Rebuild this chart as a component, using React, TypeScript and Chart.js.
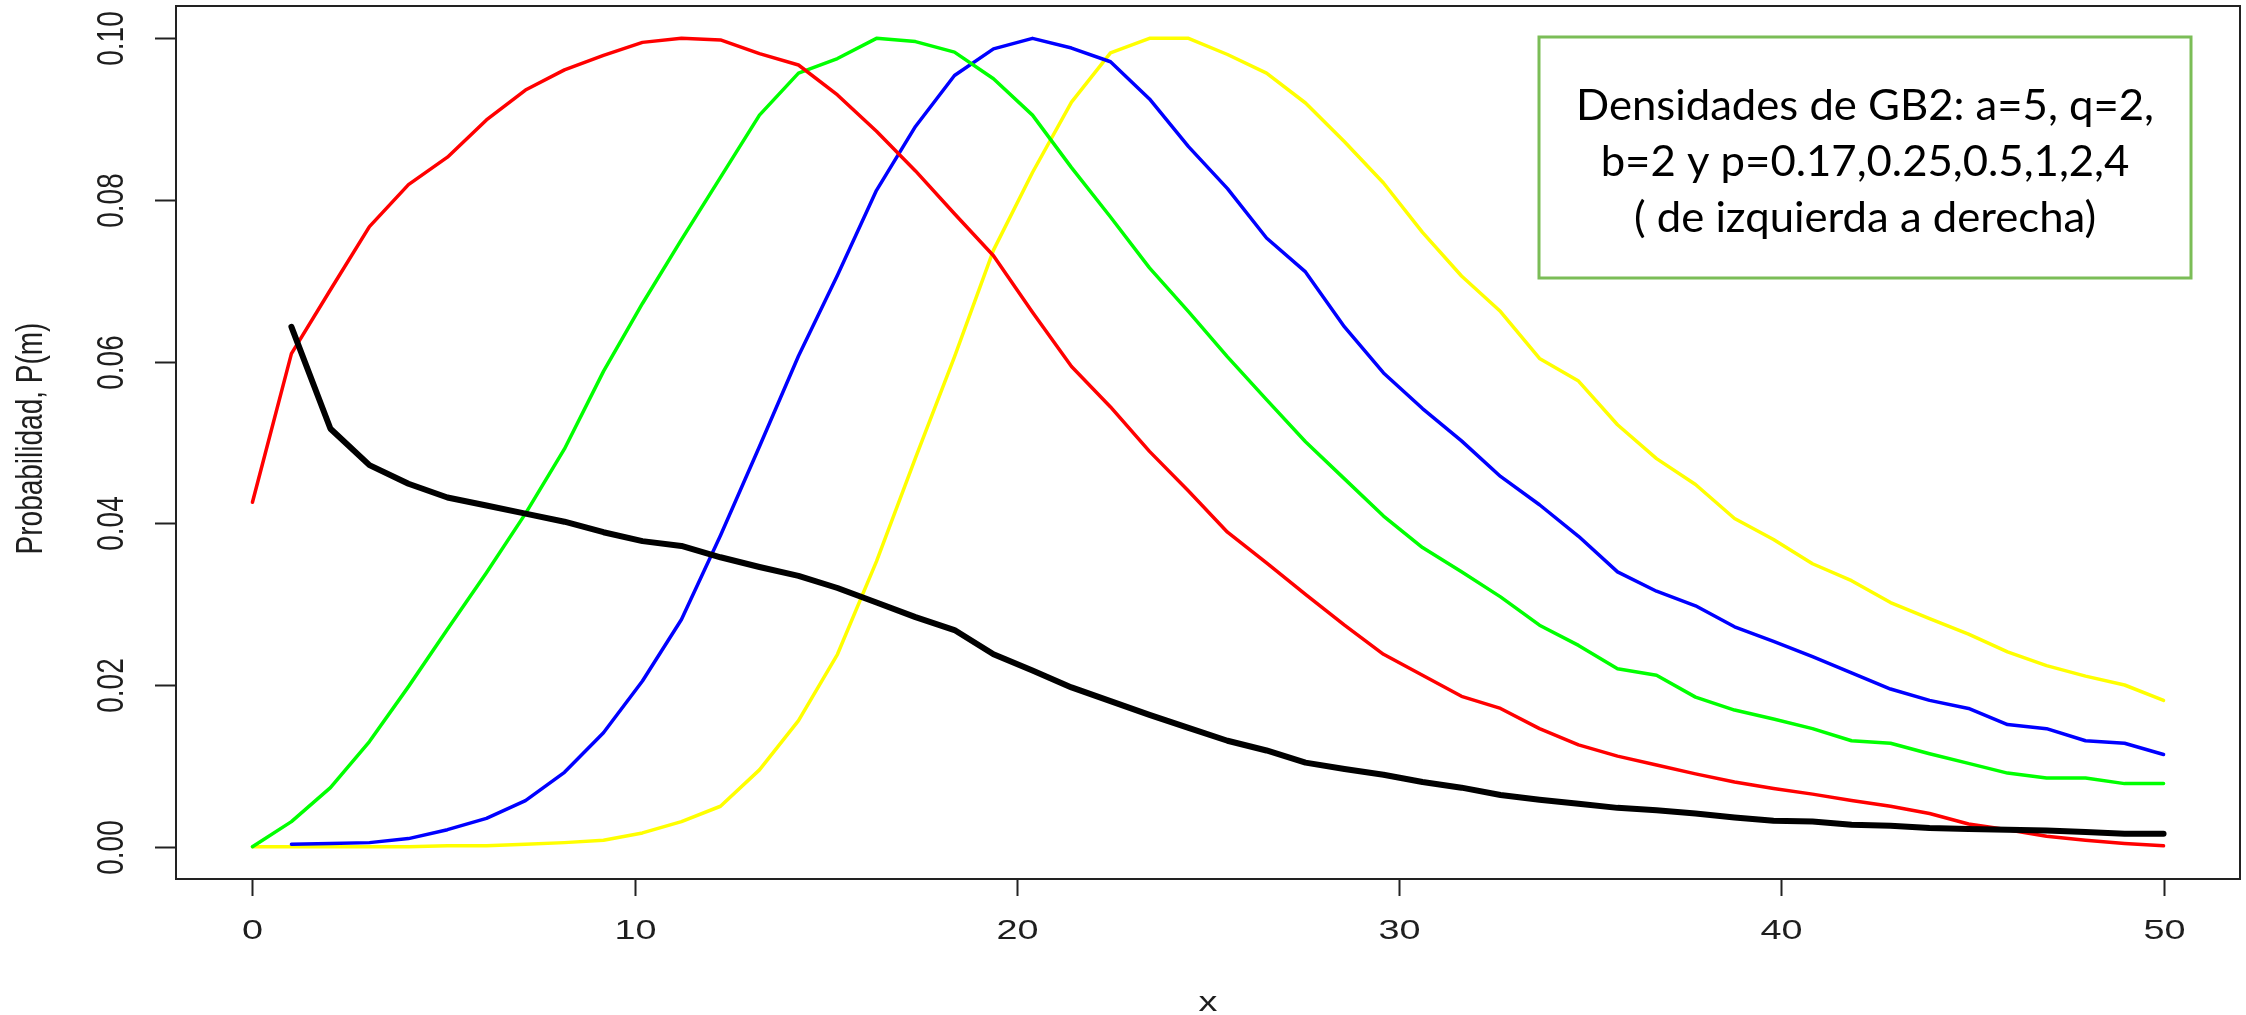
import React, { useEffect, useRef } from "react";
import { Chart, registerables } from "chart.js";

Chart.register(...registerables);

// x positions of the sampled points (50 points from 0 to 50)
const X_VALUES = [
  0, 1.02, 2.041, 3.061, 4.082, 5.102, 6.122, 7.143, 8.163, 9.184,
  10.204, 11.224, 12.245, 13.265, 14.286, 15.306, 16.327, 17.347, 18.367, 19.388,
  20.408, 21.429, 22.449, 23.469, 24.49, 25.51, 26.531, 27.551, 28.571, 29.592,
  30.612, 31.633, 32.653, 33.673, 34.694, 35.714, 36.735, 37.755, 38.776, 39.796,
  40.816, 41.837, 42.857, 43.878, 44.898, 45.918, 46.939, 47.959, 48.98, 50,
];

const RED_VALUES = [
  0.0426, 0.061, 0.0689, 0.0767, 0.0819, 0.0853, 0.0899, 0.0936, 0.0961, 0.0979,
  0.0995, 0.1, 0.0998, 0.0981, 0.0967, 0.093, 0.0885, 0.0836, 0.0783, 0.0731,
  0.0661, 0.0594, 0.0544, 0.0489, 0.044, 0.0389, 0.0351, 0.0312, 0.0274, 0.0238,
  0.0212, 0.0186, 0.0171, 0.0146, 0.0126, 0.0112, 0.0101, 0.009, 0.008, 0.0072,
  0.0065, 0.0057, 0.005, 0.0041, 0.0028, 0.0021, 0.0013, 0.0008, 0.0004, 0.0001,
];

const GREEN_VALUES = [
  0, 0.0031, 0.0073, 0.013, 0.0198, 0.0269, 0.0339, 0.0412, 0.0492, 0.0588,
  0.0672, 0.0751, 0.0828, 0.0905, 0.0957, 0.0975, 0.1, 0.0996, 0.0983, 0.095,
  0.0905, 0.084, 0.0779, 0.0716, 0.0662, 0.0606, 0.0553, 0.0501, 0.0455, 0.0409,
  0.037, 0.034, 0.0309, 0.0274, 0.0249, 0.022, 0.0212, 0.0185, 0.0169, 0.0158,
  0.0146, 0.0131, 0.0128, 0.0115, 0.0103, 0.0091, 0.0085, 0.0085, 0.0078, 0.0078,
];

const BLUE_VALUES = [
  null, 0.0003, 0.0004, 0.0005, 0.001, 0.0021, 0.0035, 0.0057, 0.0092, 0.0141,
  0.0205, 0.0281, 0.0385, 0.0495, 0.0607, 0.0707, 0.0812, 0.0891, 0.0954, 0.0987,
  0.1, 0.0988, 0.0971, 0.0925, 0.0866, 0.0814, 0.0753, 0.0711, 0.0643, 0.0586,
  0.0542, 0.0502, 0.0458, 0.0423, 0.0384, 0.034, 0.0316, 0.0298, 0.0272, 0.0254,
  0.0235, 0.0215, 0.0195, 0.0181, 0.0171, 0.0151, 0.0146, 0.0131, 0.0128, 0.0114,
];

const YELLOW_VALUES = [
  0, 0, 0, 0, 0, 0.0001, 0.0001, 0.0003, 0.0005, 0.0008,
  0.0017, 0.0031, 0.005, 0.0095, 0.0156, 0.0238, 0.0353, 0.0481, 0.0606, 0.0738,
  0.0834, 0.0921, 0.0982, 0.1, 0.1, 0.098, 0.0957, 0.092, 0.0872, 0.0821,
  0.076, 0.0706, 0.0662, 0.0604, 0.0576, 0.0522, 0.048, 0.0448, 0.0406, 0.038,
  0.035, 0.0329, 0.0302, 0.0282, 0.0263, 0.0241, 0.0224, 0.0211, 0.02, 0.0181,
];

const BLACK_VALUES = [
  null, 0.0643, 0.0517, 0.0472, 0.0449, 0.0432, 0.0422, 0.0412, 0.0402, 0.0389,
  0.0378, 0.0372, 0.0358, 0.0346, 0.0335, 0.032, 0.0302, 0.0284, 0.0268, 0.0238,
  0.0218, 0.0197, 0.018, 0.0163, 0.0147, 0.0131, 0.0119, 0.0104, 0.0096, 0.0089,
  0.008, 0.0073, 0.0064, 0.0058, 0.0053, 0.0048, 0.0045, 0.0041, 0.0036, 0.0032,
  0.0031, 0.0027, 0.0026, 0.0023, 0.0022, 0.0021, 0.002, 0.0018, 0.0016, 0.0016,
];

const X_TICKS = [0, 10, 20, 30, 40, 50];
const X_TICK_LABELS = ["0", "10", "20", "30", "40", "50"];
const Y_TICKS = [0, 0.02, 0.04, 0.06, 0.08, 0.1];
const Y_TICK_LABELS = ["0.00", "0.02", "0.04", "0.06", "0.08", "0.10"];
const X_TITLE = "x";
const Y_TITLE = "Probabilidad, P(m)";
const NOTE_LINES = [
  "Densidades de GB2: a=5, q=2,",
  "b=2 y p=0.17,0.25,0.5,1,2,4",
  "( de izquierda a derecha)",
];

const W = 2246;
const H = 1015;
const SX = 1.35; // horizontal stretch of the original raster text
const AXIS_FONT = "28px 'Liberation Sans', Arial, sans-serif";
const TEXT_COLOR = "#1e1e1e";

const toPoints = (vals: (number | null)[]) =>
  X_VALUES.map((x, i) => ({ x, y: vals[i] })).filter((p) => p.y !== null);

const rAxesPlugin = {
  id: "rAxes",
  afterDraw(chart: any) {
    const { ctx, chartArea: a, scales } = chart;
    const xs = scales.x;
    const ys = scales.y;
    ctx.save();
    // box
    ctx.strokeStyle = "#222";
    ctx.lineWidth = 2;
    ctx.strokeRect(a.left, a.top, a.right - a.left, a.bottom - a.top);

    ctx.fillStyle = TEXT_COLOR;
    ctx.font = AXIS_FONT;
    // x ticks
    X_TICKS.forEach((v, i) => {
      const px = Math.round(xs.getPixelForValue(v)) + 0.5;
      ctx.beginPath();
      ctx.moveTo(px, a.bottom);
      ctx.lineTo(px, a.bottom + 17);
      ctx.stroke();
      ctx.save();
      ctx.translate(px, a.bottom + 52);
      ctx.scale(SX, 1);
      ctx.textAlign = "center";
      ctx.textBaseline = "middle";
      ctx.fillText(X_TICK_LABELS[i], 0, 0);
      ctx.restore();
    });
    // y ticks
    Y_TICKS.forEach((v, i) => {
      const py = Math.round(ys.getPixelForValue(v)) + 0.5;
      ctx.beginPath();
      ctx.moveTo(a.left - 21, py);
      ctx.lineTo(a.left, py);
      ctx.stroke();
      ctx.save();
      ctx.translate(a.left - 63, py);
      ctx.scale(SX, 1);
      ctx.rotate(-Math.PI / 2);
      ctx.textAlign = "center";
      ctx.textBaseline = "middle";
      ctx.fillText(Y_TICK_LABELS[i], 0, 0);
      ctx.restore();
    });
    // titles
    ctx.save();
    ctx.translate((a.left + a.right) / 2, a.bottom + 124);
    ctx.scale(SX, 1);
    ctx.textAlign = "center";
    ctx.textBaseline = "middle";
    ctx.fillText(X_TITLE, 0, 0);
    ctx.restore();

    ctx.save();
    ctx.translate(a.left - 144, (a.top + a.bottom) / 2 - 4);
    ctx.scale(SX, 1);
    ctx.rotate(-Math.PI / 2);
    ctx.textAlign = "center";
    ctx.textBaseline = "middle";
    ctx.fillText(Y_TITLE, 0, 0);
    ctx.restore();

    // note box
    const bx = 1539, by = 37, bw = 652, bh = 241;
    ctx.fillStyle = "#ffffff";
    ctx.fillRect(bx, by, bw, bh);
    ctx.strokeStyle = "#7bbd57";
    ctx.lineWidth = 3;
    ctx.strokeRect(bx, by, bw, bh);
    ctx.font = "43px Lato, 'Open Sans', sans-serif";
    ctx.fillStyle = "#000";
    const fit = 578 / ctx.measureText(NOTE_LINES[0]).width;
    NOTE_LINES.forEach((line, i) => {
      ctx.save();
      ctx.translate(bx + bw / 2, 120 + i * 56);
      ctx.scale(fit, 1);
      ctx.textAlign = "center";
      ctx.textBaseline = "alphabetic";
      ctx.fillText(line, 0, 0);
      ctx.restore();
    });
    ctx.restore();
  },
};

export default function App() {
  const canvasRef = useRef<HTMLCanvasElement | null>(null);

  useEffect(() => {
    const canvas = canvasRef.current;
    if (!canvas) return;
    const mk = (label: string, vals: (number | null)[], color: string, w: number) => ({
      label,
      data: toPoints(vals),
      borderColor: color,
      backgroundColor: color,
      borderWidth: w,
      pointRadius: 0,
      tension: 0,
      fill: false,
      borderCapStyle: "round" as const,
      borderJoinStyle: "round" as const,
    });
    const chart = new Chart(canvas, {
      type: "line",
      data: {
        datasets: [
          mk("p=0.17", BLACK_VALUES, "#000000", 6),
          mk("p=0.25", RED_VALUES, "#ff0000", 3.5),
          mk("p=0.5", GREEN_VALUES, "#00ff00", 3.5),
          mk("p=1", BLUE_VALUES, "#0000ff", 3.5),
          mk("p=2", YELLOW_VALUES, "#ffff00", 3.5),
        ],
      },
      options: {
        responsive: false,
        animation: false,
        devicePixelRatio: 1,
        parsing: true,
        layout: { padding: { left: 176, right: 6, top: 6, bottom: 136 } },
        plugins: { legend: { display: false }, tooltip: { enabled: false } },
        scales: {
          x: { type: "linear", min: -2, max: 52, display: false },
          y: { type: "linear", min: -0.004, max: 0.104, display: false },
        },
      },
      plugins: [rAxesPlugin],
    });
    return () => chart.destroy();
  }, []);

  return (
    <div style={{ position: "fixed", left: 0, top: 0, width: W, height: H, background: "#fff" }}>
      <canvas ref={canvasRef} width={W} height={H} style={{ display: "block", width: W, height: H }} />
    </div>
  );
}
